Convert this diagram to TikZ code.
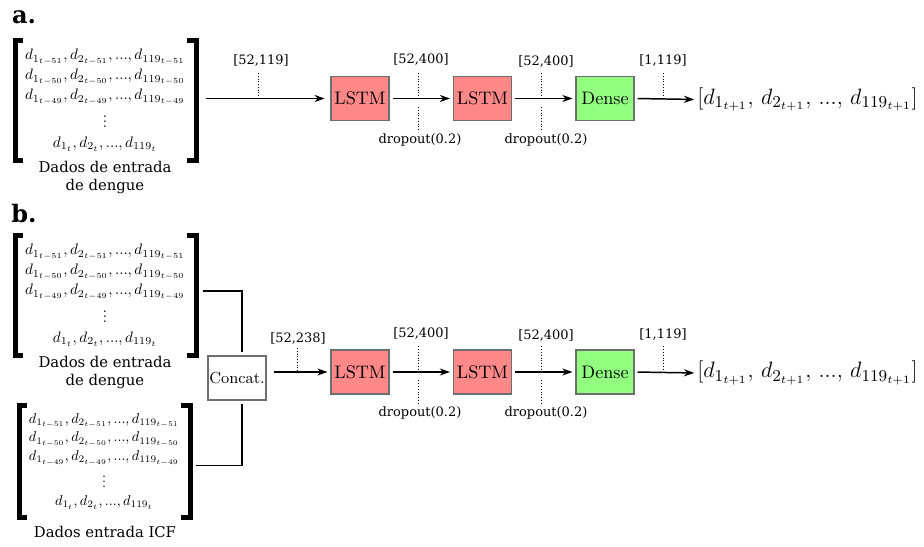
\documentclass[tikz,border=0pt]{standalone}
\usepackage{fontspec}
\newfontfamily\dvserif{DejaVu Serif}
\usetikzlibrary{arrows.meta,calc}
\definecolor{lstmred}{RGB}{255,136,136}
\definecolor{densegreen}{RGB}{146,255,128}
\definecolor{boxgray}{RGB}{110,110,110}
\newcommand{\myvdots}{\vbox{\baselineskip3.6pt\lineskiplimit0pt\hbox{.}\hbox{.}\hbox{.}}}
\newcommand{\datamatrix}[2]{%
  \draw[brk] (23,40.5) -- (15.5,40.5) -- (15.5,160.5) -- (23,160.5);
  \draw[brk] (187,40.5) -- (196.5,40.5) -- (196.5,160.5) -- (187,160.5);
  \node[mrow] (#1-r1) at (105,57) {$d_{1_{t-51}}, d_{2_{t-51}}, ..., d_{119_{t-51}}$};
  \node[mrow] (#1-r2) at (105,77) {$d_{1_{t-50}}, d_{2_{t-50}}, ..., d_{119_{t-50}}$};
  \node[mrow] (#1-r3) at (105,97) {$d_{1_{t-49}}, d_{2_{t-49}}, ..., d_{119_{t-49}}$};
  \node[mrow, anchor=base] (#1-r4) at (105,128) {\myvdots};
  \node[mrow] (#1-r5) at (105,144) {$d_{1_t}, d_{2_t}, ..., d_{119_t}$};
  \coordinate (#1-east) at (203,#2);
}
\begin{document}
\begin{tikzpicture}[x=0.54pt,y=-0.54pt,
  box/.style={draw=boxgray, line width=0.8pt, minimum width=31.3pt, minimum height=24pt, inner sep=0pt, font=\fontsize{9.8}{11}\selectfont},
  lstm/.style={box, fill=lstmred},
  dense/.style={box, fill=densegreen},
  cat/.style={box, fill=white, font=\fontsize{8.6}{10}\selectfont},
  flow/.style={line width=0.8pt, -{Stealth[length=5.5pt,width=3.8pt]}, shorten <=1.5pt, shorten >=1.5pt},
  link/.style={line width=0.75pt},
  dimline/.style={densely dotted, line width=0.5pt},
  dimlabel/.style={font=\dvserif\fontsize{7}{8}\selectfont, inner sep=0pt},
  brk/.style={line width=2.7pt, line join=miter},
  mrow/.style={inner sep=0pt, scale=0.82, font=\fontsize{10}{12}\selectfont},
  mlabel/.style={anchor=north, inner sep=0pt, align=center, font=\dvserif\fontsize{8}{9.8}\selectfont},
  outvec/.style={anchor=west, inner sep=0pt, font=\fontsize{12.3}{14}\selectfont},
  panel/.style={inner sep=0pt, font=\dvserif\bfseries\fontsize{13}{15}\selectfont}
]
\useasboundingbox (0,0) rectangle (924,547);

% ---------------- panel a ----------------
\node[panel] (pa) at (24,17) {a.};
\datamatrix{ma}{100}
\node[mlabel] (ma-l) at (105,161) {Dados de entrada\\de dengue};

\node[lstm] (la1) at (360,98.5) {LSTM};
\node[lstm] (la2) at (482.5,98.5) {LSTM};
\node[dense] (da) at (605,98.5) {Dense};
\node[outvec] (oa) at (697,99.5)
  {$\left[d_{1_{t+1}},\, d_{2_{t+1}},\, ...,\, d_{119_{t+1}}\right]$};

\draw[flow, shorten >=3pt] (ma-east |- la1) -- (la1.west);
\draw[flow] (la1.east) -- (la2.west);
\draw[flow] (la2.east) -- (da.west);
\draw[flow] (da.east) -- (oa.west);

\coordinate (ka0) at (258,98.5);
\coordinate (ka1) at (418,98.5);
\coordinate (ka2) at (541,98.5);
\coordinate (ka3) at (663,98.5);
\foreach \k in {ka0,ka1,ka2,ka3}
  \draw[dimline] ($(\k)+(0,-25.5)$) -- ($(\k)+(0,-1.5)$);
\foreach \k in {ka1,ka2}
  \draw[dimline] ($(\k)+(0,8.5)$) -- ($(\k)+(0,31.5)$);
\node[dimlabel] (ta0) at ($(ka0)+(3,-38)$) {[52,119]};
\node[dimlabel] (ta1) at ($(ka1)+(3,-39)$) {[52,400]};
\node[dimlabel] (ta2) at ($(ka2)+(5,-37)$) {[52,400]};
\node[dimlabel] (ta3) at ($(ka3)+(0,-38)$) {[1,119]};
\node[dimlabel] (ua1) at ($(ka1)+(2,41)$) {dropout(0.2)};
\node[dimlabel] (ua2) at ($(ka2)+(5,41)$) {dropout(0.2)};

% ---------------- panel b ----------------
\node[panel] (pb) at (24,214) {b.};
\begin{scope}[shift={(0,195)}]
  \datamatrix{mb}{96}
\end{scope}
\node[mlabel] (mb-l) at (105,356) {Dados de entrada\\de dengue};
\begin{scope}[shift={(5.4,367)}, scale=0.94, transform shape]
  \datamatrix{mc}{105}
\end{scope}
\node[mlabel] (mc-l) at (105,526) {Dados entrada ICF};

\node[cat] (cc) at (237,378) {Concat.};
\coordinate (cj1) at (242,352);
\coordinate (cj2) at (242,404);
\draw[link] (mb-east) -| (cj1);
\draw[link] (mc-east) -| (cj2);

\node[lstm] (lb1) at (360,372) {LSTM};
\node[lstm] (lb2) at (482.5,372) {LSTM};
\node[dense] (db) at (605,372) {Dense};
\node[outvec] (ob) at (697,373)
  {$\left[d_{1_{t+1}},\, d_{2_{t+1}},\, ...,\, d_{119_{t+1}}\right]$};

\draw[flow, shorten <=4pt] (cc.east |- lb1) -- (lb1.west);
\draw[flow] (lb1.east) -- (lb2.west);
\draw[flow] (lb2.east) -- (db.west);
\draw[flow] (db.east) -- (ob.west);

\coordinate (kb0) at (297,372);
\coordinate (kb1) at (418,372);
\coordinate (kb2) at (541,372);
\coordinate (kb3) at (663,372);
\draw[dimline] ($(kb0)+(0,-24)$) -- ($(kb0)+(0,-1.5)$);
\foreach \k in {kb1,kb2,kb3}
  \draw[dimline] ($(\k)+(0,-25.5)$) -- ($(\k)+(0,-1.5)$);
\foreach \k in {kb1,kb2}
  \draw[dimline] ($(\k)+(0,8.5)$) -- ($(\k)+(0,31.5)$);
\node[dimlabel] (tb0) at ($(kb0)+(1,-34)$) {[52,238]};
\node[dimlabel] (tb1) at ($(kb1)+(3,-39)$) {[52,400]};
\node[dimlabel] (tb2) at ($(kb2)+(5,-37)$) {[52,400]};
\node[dimlabel] (tb3) at ($(kb3)+(0,-38)$) {[1,119]};
\node[dimlabel] (ub1) at ($(kb1)+(2,41)$) {dropout(0.2)};
\node[dimlabel] (ub2) at ($(kb2)+(5,41)$) {dropout(0.2)};
\end{tikzpicture}
\end{document}
